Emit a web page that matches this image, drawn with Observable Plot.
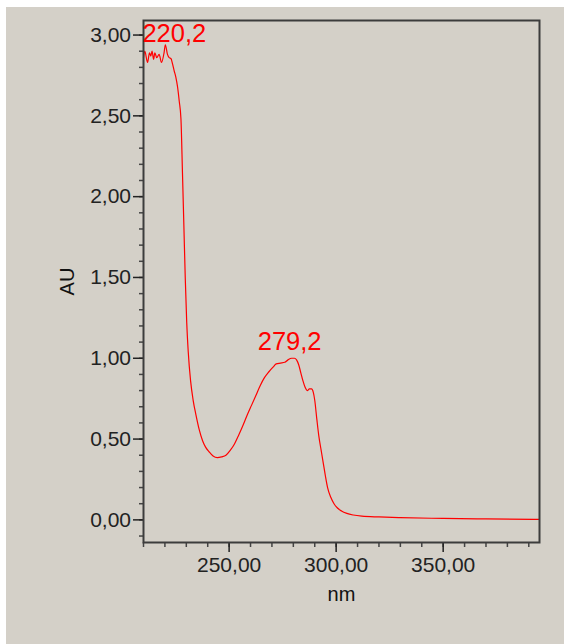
<!DOCTYPE html>
<html>
<head>
<meta charset="utf-8">
<script src="https://cdn.jsdelivr.net/npm/d3@7"></script>
<script src="https://cdn.jsdelivr.net/npm/@observablehq/plot@0.6"></script>
<style>
  html, body { margin: 0; padding: 0; background: #ffffff; }
  #chart { position: absolute; left: 6px; top: 7px; }
  #chart svg { display: block; }
</style>
</head>
<body>
<div id="chart"></div>
<script>
// UV absorbance spectrum
const wavelength = [
  210.0, 210.6, 211.9, 212.8, 213.4, 214.0, 214.7, 215.3, 216.2, 217.3,
  218.4, 219.6, 220.2, 221.2, 222.0, 222.8, 223.6, 224.3, 225.1, 225.9,
  226.7, 227.5, 228.2, 228.9, 229.5, 230.2, 230.9, 232.0, 233.2, 234.5,
  236.0, 237.6, 239.0, 240.7, 242.5, 244.5, 246.5, 248.5, 250.5, 252.5,
  254.5, 256.5, 258.5, 260.5, 262.5, 264.5, 266.5, 268.5, 270.5, 272.0,
  274.0, 276.0, 277.5, 279.2, 280.5, 281.5, 282.5, 283.5, 284.5, 285.5,
  286.5, 287.5, 288.5, 289.3, 290.0, 291.0, 292.0, 293.0, 294.0, 295.0,
  296.0, 297.5, 299.0, 300.5, 302.5, 305.0, 308.0, 312.0, 320.0, 330.0,
  350.0, 370.0, 395.0
];
const absorbance = [
  2.86, 2.90, 2.83, 2.89, 2.87, 2.90, 2.85, 2.89, 2.86, 2.88,
  2.83, 2.89, 2.94, 2.88, 2.86, 2.855, 2.82, 2.78, 2.74, 2.68,
  2.59, 2.48, 2.15, 1.80, 1.50, 1.22, 1.04, 0.86, 0.74, 0.65,
  0.56, 0.49, 0.45, 0.42, 0.395, 0.385, 0.39, 0.40, 0.43, 0.47,
  0.525, 0.585, 0.65, 0.71, 0.77, 0.83, 0.88, 0.915, 0.945, 0.965,
  0.97, 0.975, 0.99, 1.00, 1.00, 0.99, 0.96, 0.91, 0.86, 0.82,
  0.80, 0.81, 0.81, 0.79, 0.74, 0.62, 0.51, 0.43, 0.35, 0.27,
  0.20, 0.14, 0.10, 0.075, 0.055, 0.04, 0.03, 0.023, 0.018, 0.014,
  0.009, 0.006, 0.003
];

// Labelled peak maxima
const peakWavelength = [220.2, 279.2];
const peakAbsorbance = [2.94, 1.00];
const peakLabel = ["220,2", "279,2"];

// Axis ticks
const xMajorTicks = [250, 300, 350];
const xMinorTicks = d3.range(210, 391, 10);
const yMajorTicks = [0, 0.5, 1, 1.5, 2, 2.5, 3];
const yMinorTicks = d3.range(-1, 31).map(i => i / 10);

const xTitle = "nm";
const yTitle = "AU";

const spectrum = wavelength.map((w, i) => ({w, a: absorbance[i]}));
const peaks = peakWavelength.map((w, i) => ({w, a: peakAbsorbance[i], label: peakLabel[i]}));
const fmt = d => d.toFixed(2).replace(".", ",");
const blank = () => "";
const tickColor = "#444";

const chart = Plot.plot({
  width: 558,
  height: 637,
  marginLeft: 137,
  marginRight: 25,
  marginTop: 13,
  marginBottom: 102,
  style: {
    background: "#d4d0c8",
    fontFamily: "'Liberation Sans', Arial, sans-serif",
    fontSize: "21px",
    color: "#111"
  },
  x: {domain: [210, 395], axis: null},
  y: {domain: [-0.14, 3.09], axis: null},
  marks: [
    Plot.line(spectrum, {x: "w", y: "a", stroke: "#ff0000", strokeWidth: 1.2, curve: "monotone-x"}),
    Plot.axisX(xMinorTicks, {anchor: "bottom", tickSize: 5, tickFormat: blank, label: null, color: tickColor, strokeWidth: 1.5}),
    Plot.axisX(xMajorTicks, {anchor: "bottom", tickSize: 10, tickPadding: 4.8, tickFormat: fmt, label: null, color: "#222", strokeWidth: 1.5}),
    Plot.axisY(yMinorTicks, {anchor: "left", tickSize: 4, tickFormat: blank, label: null, color: tickColor, strokeWidth: 1.5}),
    Plot.axisY(yMajorTicks, {anchor: "left", tickSize: 10, tickPadding: 2.5, tickFormat: fmt, label: null, color: "#222", strokeWidth: 1.5}),
    Plot.frame({stroke: "#3c3c3c", strokeWidth: 2}),
    Plot.text([peaks[0]], {x: "w", y: "a", text: "label", fill: "#ff0000", fontSize: 25.5, lineAnchor: "bottom", dx: 9, dy: -3}),
    Plot.text([peaks[1]], {x: "w", y: "a", text: "label", fill: "#ff0000", fontSize: 25.5, lineAnchor: "bottom", dx: -2, dy: -8}),
    Plot.text([xTitle], {frameAnchor: "bottom", text: d => d, textAnchor: "middle", lineAnchor: "bottom", dy: 58, fontSize: 20, fill: "#111"}),
    Plot.text([yTitle], {frameAnchor: "left", text: d => d, textAnchor: "middle", rotate: -90, dx: -76, fontSize: 20, fill: "#111"})
  ]
});

document.getElementById("chart").appendChild(chart);
</script>
</body>
</html>
